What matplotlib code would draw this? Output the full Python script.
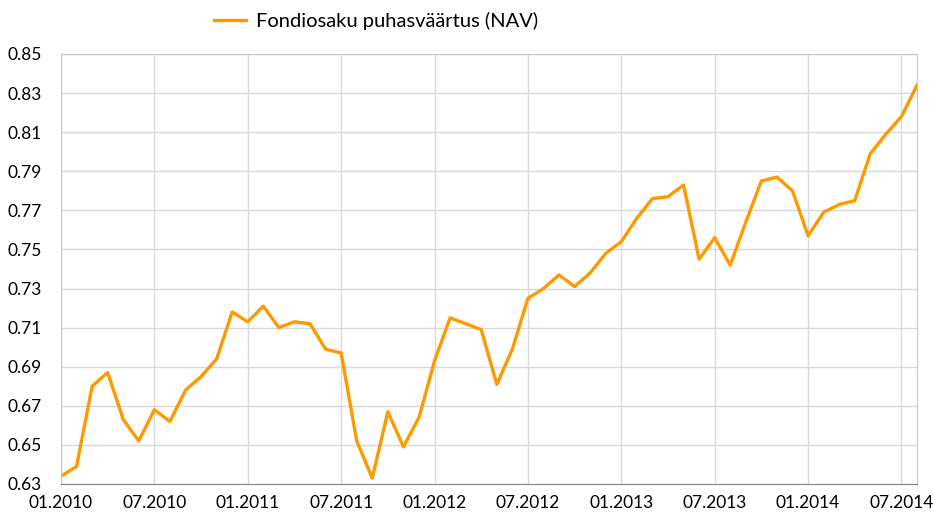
import matplotlib.pyplot as plt

# monthly NAV, 01.2010 .. 08.2014
nav = [0.634, 0.639, 0.680, 0.687, 0.663, 0.652, 0.668, 0.662, 0.678, 0.685,
       0.694, 0.718, 0.713, 0.721, 0.710, 0.713, 0.712, 0.699, 0.697, 0.652,
       0.633, 0.667, 0.649, 0.664, 0.693, 0.715, 0.712, 0.709, 0.681, 0.699,
       0.725, 0.730, 0.737, 0.731, 0.738, 0.748, 0.754, 0.766, 0.776, 0.777,
       0.783, 0.745, 0.756, 0.742, 0.764, 0.785, 0.787, 0.780, 0.757, 0.769,
       0.773, 0.775, 0.799, 0.809, 0.818, 0.834]
months = list(range(len(nav)))
tick_labels = ["01.2010", "07.2010", "01.2011", "07.2011", "01.2012",
               "07.2012", "01.2013", "07.2013", "01.2014", "07.2014"]
tick_pos = [6 * i for i in range(len(tick_labels))]
y_ticks = [0.63 + 0.02 * i for i in range(12)]

plt.rcParams['font.family'] = ['Lato', 'DejaVu Sans']

fig = plt.figure(figsize=(9.33, 5.17), dpi=100)
ax = fig.add_axes([61 / 933, 33 / 517, 856 / 933, 430 / 517])

ax.plot(months, nav, color="#FF9900", linewidth=2.4, label="Fondiosaku puhasväärtus (NAV)")

ax.set_xlim(0, len(nav) - 1)
ax.set_ylim(0.63, 0.85)
ax.set_xticks(tick_pos)
ax.set_xticklabels(tick_labels)
ax.set_yticks(y_ticks)
ax.set_yticklabels(["%.2f" % v for v in y_ticks])
ax.grid(True, color="#d9d9d9", linewidth=1)
ax.set_axisbelow(True)
ax.tick_params(length=0, labelsize=12.5, colors="#000000", pad=8)
ax.tick_params(axis="y", pad=14)
for s in ["top", "right", "left"]:
    ax.spines[s].set_color("#c8c8c8")
ax.spines["bottom"].set_color("#868686")

fig.legend(loc="upper center", bbox_to_anchor=(0.403, 1.012), frameon=False,
           fontsize=14.5, handlelength=1.6, handletextpad=0.5)

plt.savefig("out.png", dpi=100)
